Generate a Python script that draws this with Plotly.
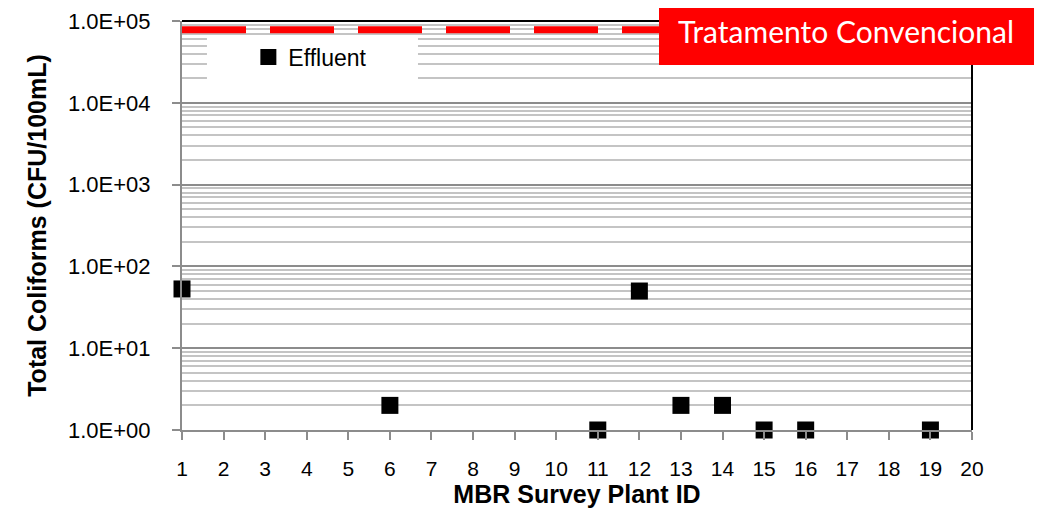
import plotly.graph_objects as go

plant_id = [1, 6, 11, 12, 13, 14, 15, 16, 19]
effluent = [53, 2, 1, 50, 2, 2, 1, 1, 1]

conv_x = [1, 20]
conv_y = [78000, 78000]

y_tickvals = [1, 10, 100, 1000, 10000, 100000]
y_ticktext = ["1.0E+00", "1.0E+01", "1.0E+02", "1.0E+03", "1.0E+04", "1.0E+05"]
x_ticks = list(range(1, 21))

box_label = "Tratamento Convencional"

fig = go.Figure()

fig.add_trace(go.Scatter(
    x=conv_x, y=conv_y, mode="lines",
    line=dict(color="#ff0000", width=7, dash="64px,24px"),
    showlegend=False, hoverinfo="skip", cliponaxis=False,
))

fig.add_trace(go.Scatter(
    x=plant_id, y=effluent, mode="markers", name="Effluent",
    marker=dict(symbol="square", size=17, color="black"),
    cliponaxis=False,
))

# page body has an 8px default margin, so the figure is sized to fit the window
fig.update_layout(
    width=1040, height=501,
    margin=dict(l=174, r=76, t=13, b=79),
    paper_bgcolor="white", plot_bgcolor="white",
    font=dict(family="Liberation Sans, Arial, sans-serif", color="black"),
    legend=dict(
        x=0.084, y=0.912, xanchor="left", yanchor="middle",
        bgcolor="rgba(0,0,0,0)", font=dict(size=23, color="black"),
        borderwidth=0,
    ),
    shapes=[
        dict(type="rect", xref="paper", yref="paper",
             x0=0.0316, x1=0.2987, y0=0.819, y1=0.9658,
             fillcolor="white", line=dict(width=0), layer="above"),
        dict(type="line", xref="paper", yref="paper",
             x0=0, x1=1, y0=1, y1=1, line=dict(color="black", width=2)),
        dict(type="line", xref="paper", yref="paper",
             x0=1, x1=1, y0=0, y1=1, line=dict(color="black", width=2)),
        dict(type="rect", xref="paper", yref="paper",
             x0=0.6038, x1=1.0785, y0=0.8924, y1=1.0489,
             fillcolor="#ff0000", line=dict(width=0), layer="above"),
    ],
    annotations=[
        dict(text=box_label, xref="paper", yref="paper",
             x=0.8405, y=0.9756,
             xanchor="center", yanchor="middle", showarrow=False,
             font=dict(family="Lato, Open Sans, sans-serif", size=30, color="white")),
    ],
)

fig.update_xaxes(
    range=[1, 20], tickvals=x_ticks, ticktext=[str(v) for v in x_ticks],
    showgrid=False, zeroline=False, automargin=False,
    showline=True, linecolor="#8c8c8c", linewidth=2,
    ticks="outside", ticklen=8, tickwidth=2, tickcolor="#8c8c8c",
    tickfont=dict(size=21), ticklabelstandoff=11,
    title=dict(text="<b>MBR Survey Plant ID</b>", font=dict(size=25), standoff=0),
)

fig.update_yaxes(
    type="log", range=[0, 5], tickvals=y_tickvals, ticktext=y_ticktext,
    showgrid=True, gridcolor="#8c8c8c", gridwidth=2,
    minor=dict(dtick="D1", showgrid=True, gridcolor="#c4c4c4", gridwidth=2, ticks=""),
    zeroline=False, automargin=False,
    showline=True, linecolor="#8c8c8c", linewidth=2,
    ticks="outside", ticklen=8, tickwidth=2, tickcolor="#8c8c8c",
    tickfont=dict(size=22), ticklabelstandoff=17,
    title=dict(text="<b>Total Coliforms (CFU/100mL)</b>", font=dict(size=25), standoff=14),
)

fig.write_html("out.html")
